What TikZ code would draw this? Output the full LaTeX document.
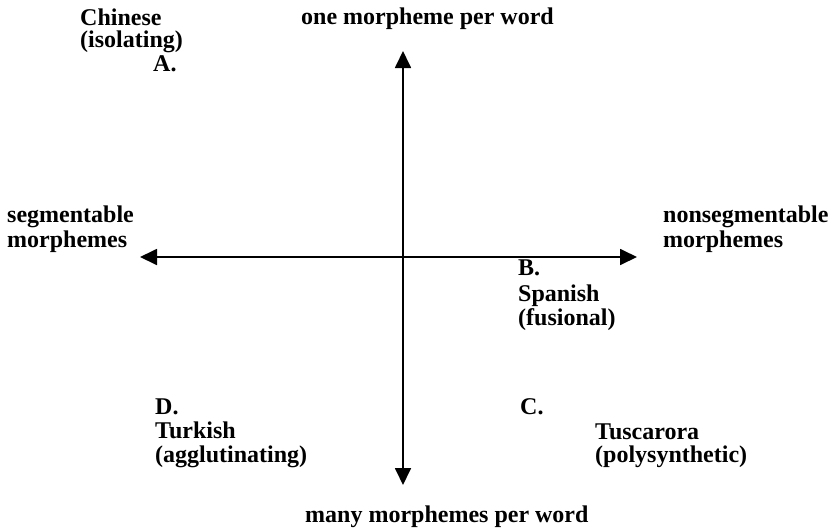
\documentclass[tikz,border=0pt]{standalone}
\usepackage{fontspec}
\setmainfont{Liberation Serif}
\usetikzlibrary{arrows.meta}
\tikzset{
  lbl/.style={anchor=base west, inner sep=0pt, font=\bfseries\fontsize{24}{22.5}\selectfont},
  axis/.style={line width=1.8pt, {Triangle[length=17pt,width=16pt]}-{Triangle[length=17pt,width=16pt]}}
}
\begin{document}
\begin{tikzpicture}[x=1pt,y=-1pt]
\useasboundingbox (0,0) rectangle (839,531);
\coordinate (L) at (140,257);
\coordinate (R) at (637,257);
\coordinate (T) at (403,51);
\coordinate (B) at (403,485);
\draw[axis] (L) -- (R);
\draw[axis] (T) -- (B);
\node[lbl] (top) at (301,24) {one morpheme per word};
\node[lbl] (bot) at (305,522) {many morphemes per word};
\node[lbl] (chin1) at (80,25) {Chinese};
\node[lbl] (chin2) at (80,47) {(isolating)};
\node[lbl] (chinA) at (153,71.5) {A.};
\node[lbl] (seg1) at (7,222) {segmentable};
\node[lbl] (seg2) at (7,247) {morphemes};
\node[lbl] (nseg1) at (663,222) {nonsegmentable};
\node[lbl] (nseg2) at (663,247) {morphemes};
\node[lbl] (spB) at (518,275) {B.};
\node[lbl] (sp1) at (518,301) {Spanish};
\node[lbl] (sp2) at (518,325) {(fusional)};
\node[lbl] (tuD) at (155,414) {D.};
\node[lbl] (tu1) at (155,438) {Turkish};
\node[lbl] (tu2) at (155,462) {(agglutinating)};
\node[lbl] (tsC) at (520,414) {C.};
\node[lbl] (ts1) at (595,439) {Tuscarora};
\node[lbl] (ts2) at (595,462) {(polysynthetic)};
\end{tikzpicture}
\end{document}
